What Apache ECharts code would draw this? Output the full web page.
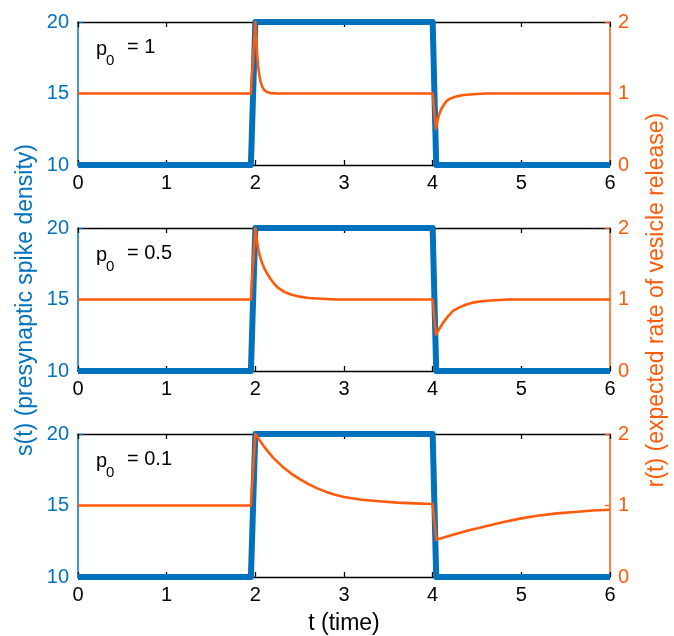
<!DOCTYPE html>
<html>
<head>
<meta charset="utf-8">
<script src="https://cdn.jsdelivr.net/npm/echarts@6/dist/echarts.min.js"></script>
<style>
  html, body { margin: 0; padding: 0; background: #fff; }
  #mychart { width: 674px; height: 636px; }
</style>
</head>
<body>
<div id="mychart"></div>
<script>
"use strict";
// presynaptic spike density s(t), same for all panels
const sTime = [0, 1.95, 2.0, 4.0, 4.04, 6];
const sValue = [10, 10, 20, 20, 10, 10];

// expected rate of vesicle release r(t), one per p0
const p0Labels = ['1', '0.5', '0.1'];
const rTime1 = [0, 1.95, 2.0, 2.01, 2.02, 2.03, 2.04, 2.05, 2.06, 2.08, 2.1, 2.13, 2.18, 2.25,
    4.0, 4.037, 4.05, 4.07, 4.1, 4.13, 4.16, 4.2, 4.27, 4.35, 4.46, 4.6, 6];
const rValue1 = [1, 1, 2, 1.75, 1.55, 1.4, 1.3, 1.22, 1.16, 1.09, 1.05, 1.02, 1.005, 1.0,
    1.0, 0.51, 0.6, 0.7, 0.79, 0.85, 0.9, 0.93, 0.96, 0.98, 0.99, 1.0, 1.0];
const rTime2 = [0, 1.95, 2.0, 2.02, 2.04, 2.07, 2.1, 2.13, 2.17, 2.2, 2.25, 2.32, 2.4, 2.5, 2.6, 2.75, 2.9,
    4.0, 4.037, 4.07, 4.12, 4.17, 4.23, 4.3, 4.38, 4.47, 4.57, 4.7, 4.85, 6];
const rValue2 = [1, 1, 2, 1.8, 1.66, 1.53, 1.44, 1.37, 1.29, 1.24, 1.17, 1.11, 1.07, 1.04, 1.02, 1.01, 1.0,
    1.0, 0.51, 0.58, 0.68, 0.76, 0.84, 0.89, 0.93, 0.96, 0.98, 0.99, 1.0, 1.0];
const rTime3 = [0, 1.95, 2.0, 2.1, 2.2, 2.3, 2.4, 2.5, 2.6, 2.7, 2.8, 2.9, 3.0, 3.2, 3.4, 3.6, 3.8, 4.0,
    4.04, 4.2, 4.4, 4.6, 4.8, 5.0, 5.2, 5.4, 5.6, 5.8, 6.0];
const rValue3 = [1, 1, 2, 1.82, 1.67, 1.55, 1.45, 1.37, 1.3, 1.24, 1.19, 1.15, 1.12, 1.08, 1.06, 1.04, 1.03, 1.02,
    0.52, 0.58, 0.65, 0.71, 0.77, 0.82, 0.86, 0.89, 0.91, 0.93, 0.94];

const rTimes = [rTime1, rTime2, rTime3];
const rValues = [rValue1, rValue2, rValue3];

const BLUE = '#0072BD';
const ORANGE = '#FF5A0A';
const FONT = 'Liberation Sans, Arial, sans-serif';

function zip(xs, ys) {
    return xs.map((x, i) => [x, ys[i]]);
}

const container = document.getElementById('mychart');
const myChart = echarts.init(container);

const tops = [22, 228, 434];
const grids = [], xAxes = [], yAxes = [], series = [], graphics = [];

tops.forEach((top, i) => {
    grids.push({ left: 78, top: top, width: 532, height: 143 });
    // bottom x axis with labels
    xAxes.push({
        type: 'value', gridIndex: i, min: 0, max: 6, interval: 1, position: 'bottom',
        axisLine: { show: true, onZero: false, lineStyle: { color: '#000', width: 1.3 } },
        axisTick: { show: true, inside: true, length: 5, lineStyle: { color: '#000', width: 1.3 } },
        axisLabel: { color: '#000', fontSize: 20, fontFamily: FONT, margin: 8 },
        splitLine: { show: false }
    });
    // top x axis, box edge only
    xAxes.push({
        type: 'value', gridIndex: i, min: 0, max: 6, interval: 1, position: 'top',
        axisLine: { show: true, onZero: false, lineStyle: { color: '#000', width: 1.3 } },
        axisTick: { show: true, inside: true, length: 5, lineStyle: { color: '#000', width: 1.3 } },
        axisLabel: { show: false },
        splitLine: { show: false }
    });
    yAxes.push({
        type: 'value', gridIndex: i, min: 10, max: 20, interval: 5, position: 'left',
        axisLine: { show: true, onZero: false, lineStyle: { color: BLUE, width: 1.5 } },
        axisTick: { show: true, inside: true, length: 5, lineStyle: { color: BLUE, width: 1.3 } },
        axisLabel: { color: BLUE, fontSize: 20, fontFamily: FONT, margin: 9 },
        splitLine: { show: false }
    });
    yAxes.push({
        type: 'value', gridIndex: i, min: 0, max: 2, interval: 1, position: 'right',
        axisLine: { show: true, onZero: false, lineStyle: { color: ORANGE, width: 1.5 } },
        axisTick: { show: true, inside: true, length: 5, lineStyle: { color: ORANGE, width: 1.3 } },
        axisLabel: { color: ORANGE, fontSize: 20, fontFamily: FONT, margin: 8 },
        splitLine: { show: false }
    });
});

// series after all axes so every index exists
tops.forEach((top, i) => {
    series.push({
        type: 'line', xAxisIndex: 2 * i, yAxisIndex: 2 * i,
        data: zip(sTime, sValue), symbol: 'none', clip: false, z: 3,
        lineStyle: { color: BLUE, width: 6, join: 'round' }
    });
    series.push({
        type: 'line', xAxisIndex: 2 * i, yAxisIndex: 2 * i + 1,
        data: zip(rTimes[i], rValues[i]), symbol: 'none', clip: false, z: 4,
        lineStyle: { color: ORANGE, width: 2.6, join: 'round' }
    });
    // p0 label
    graphics.push({ type: 'text', left: 96, top: top + 17, style: { text: 'p', fill: '#000', font: '20px ' + FONT } });
    graphics.push({ type: 'text', left: 106, top: top + 31, style: { text: '0', fill: '#000', font: '15px ' + FONT } });
    graphics.push({ type: 'text', left: 127, top: top + 15, style: { text: '= ' + p0Labels[i], fill: '#000', font: '20px ' + FONT } });
});

graphics.push({
    type: 'text', x: 26, y: 300, rotation: Math.PI / 2,
    style: { text: 's(t) (presynaptic spike density)', fill: BLUE, font: '23px ' + FONT, align: 'center', verticalAlign: 'middle' }
});
graphics.push({
    type: 'text', x: 657, y: 300, rotation: Math.PI / 2,
    style: { text: 'r(t) (expected rate of vesicle release)', fill: ORANGE, font: '23px ' + FONT, align: 'center', verticalAlign: 'middle' }
});
graphics.push({
    type: 'text', x: 344, y: 624,
    style: { text: 't (time)', fill: '#000', font: '23px ' + FONT, align: 'center', verticalAlign: 'middle' }
});

const option = {
    animation: false,
    grid: grids,
    xAxis: xAxes,
    yAxis: yAxes,
    series: series,
    graphic: graphics
};
myChart.setOption(option);
</script>
</body>
</html>
